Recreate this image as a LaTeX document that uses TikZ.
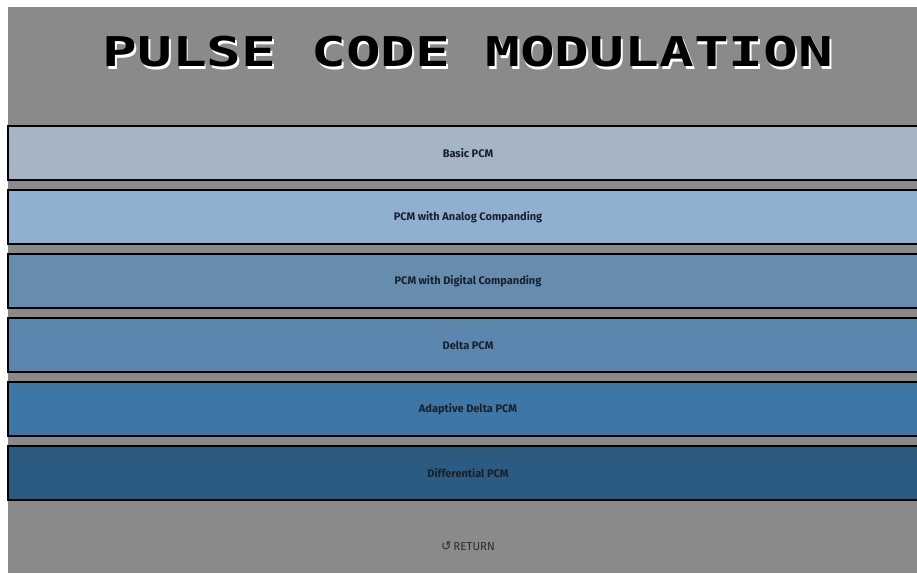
\documentclass[tikz,border=0pt]{standalone}
\usepackage{fontspec}
\setmainfont{Fira Sans}
\newfontfamily\pixelfont{DejaVu Sans Mono}
\newfontfamily\symfont{DejaVu Sans}
\usetikzlibrary{positioning}

\definecolor{screengray}{HTML}{8A8A8A}
\definecolor{btnA}{HTML}{A5B5C5}
\definecolor{btnB}{HTML}{8FB0D1}
\definecolor{btnC}{HTML}{668DAE}
\definecolor{btnD}{HTML}{5B87AE}
\definecolor{btnE}{HTML}{3E76A5}
\definecolor{btnF}{HTML}{2B5B81}
\definecolor{btntext}{HTML}{17212B}
\definecolor{rettext}{HTML}{2E2E2E}

% title text with a white copy set slightly down and to the right
\newcommand{\shadowtitle}[1]{\scalebox{1.41}[1]{\rlap{\hspace{1.2pt}\raisebox{-2.5pt}{\color{white}#1}}#1}}

\begin{document}
\begin{tikzpicture}[x=1pt,y=-1pt]
        \useasboundingbox (0,0) rectangle (917,573);
        \fill[white] (0,0) rectangle (917,573);
        \clip (0,0) rectangle (917,573);
        \fill[screengray] (8,7) rectangle (917,573);
        \tikzstyle{pixeltitle} = [font=\pixelfont\bfseries\fontsize{41}{41}\selectfont, inner sep=0pt]
        \tikzstyle{pcmbtn} = [draw=black, line width=1.3pt, outer sep=0pt, inner sep=0pt,
                minimum width=920pt, minimum height=54pt, text=btntext,
                font=\bfseries\fontsize{11}{13}\selectfont]
        \tikzstyle{retlink} = [text=rettext, font=\fontsize{11.5}{13}\selectfont]
        % heading
        \node[pixeltitle, text=black] (heading) at (468,53) {\shadowtitle{PULSE CODE MODULATION}};
        % menu buttons
        \node[pcmbtn, fill=btnA] (basic) at (468,153) {Basic PCM};
        \node[pcmbtn, fill=btnB, below=10pt of basic] (analog) {PCM with Analog Companding};
        \node[pcmbtn, fill=btnC, below=10pt of analog] (digital) {PCM with Digital Companding};
        \node[pcmbtn, fill=btnD, below=10pt of digital] (delta) {Delta PCM};
        \node[pcmbtn, fill=btnE, below=10pt of delta] (adaptive) {Adaptive Delta PCM};
        \node[pcmbtn, fill=btnF, below=10pt of adaptive] (differential) {Differential PCM};
        \node[retlink] (return) at (468,546) {{\symfont\fontsize{12.5}{13}\selectfont ↺}\,RETURN};
\end{tikzpicture}
\end{document}
